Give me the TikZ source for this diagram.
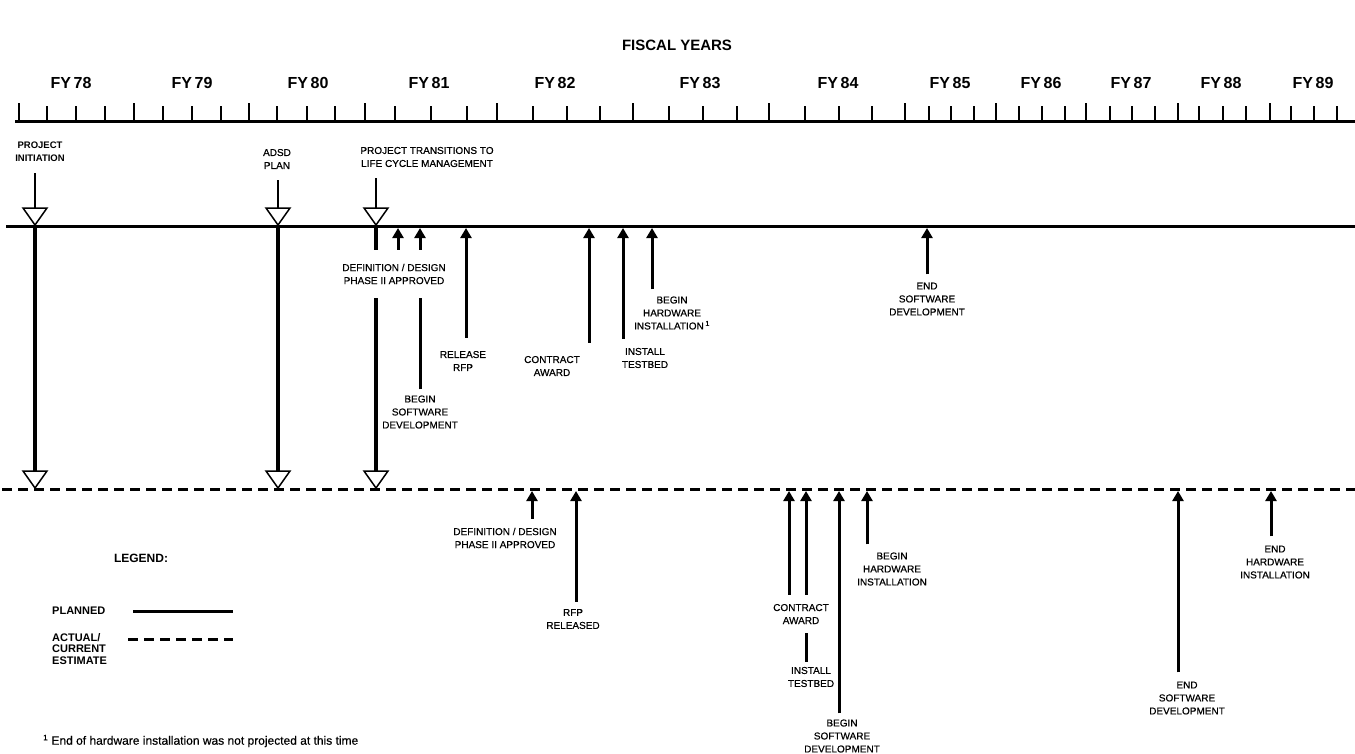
\documentclass[tikz,border=0pt]{standalone}
\usepackage{fontspec}
\setmainfont{Liberation Sans}
\newfontfamily\labfont[FakeBold=0.5]{Liberation Sans}
\newfontfamily\fnfont[FakeBold=0.35]{Liberation Sans}
\usetikzlibrary{arrows.meta,calc}
\newcommand\downtri[1]{\draw[tri] ($(#1)+(-12,-17)$) -- (#1) -- ($(#1)+(12,-17)$) -- cycle;}
\begin{document}
\begin{tikzpicture}[x=1pt,y=-1pt,
  lab/.style={font=\labfont\fontsize{10}{13}\selectfont, align=center, inner sep=1pt},
  labw/.style={lab, fill=white},
  fy/.style={font=\bfseries\fontsize{16}{18}\selectfont},
  arr/.style={line width=3pt, -{Triangle[length=10pt,width=11pt]}},
  vline/.style={line width=3.2pt},
  thinl/.style={line width=1.5pt},
  planned/.style={line width=3pt},
  actual/.style={line width=3pt, dash pattern=on 10pt off 6pt},
  tri/.style={line width=1.5pt, fill=white, line join=miter},
  mintick/.style={line width=1.4pt},
  majtick/.style={line width=2.4pt}]

\useasboundingbox (0,0) rectangle (1355,753);
\fill[white] (0,0) rectangle (1355,753);

% title and fiscal years
\node[font=\bfseries\fontsize{15}{17}\selectfont] (title) at (677,45) {FISCAL YEARS};
\foreach \x/\t [count=\i] in {71/78,192/79,308/80,429/81,555/82,700/83,838/84,950/85,1041/86,1131/87,1221/88,1313/89}
  \node[fy] (fy\i) at (\x,83) {FY\,\t};

% axis
\coordinate (ax0) at (15,121);
\coordinate (ax1) at (1355,121);
\draw[line width=3pt] (ax0) -- (ax1);
\foreach \x in {19,134,249,365,497,633,769,905,996,1086,1178,1270}
  \draw[majtick] (\x,121) -- (\x,103);
\foreach \x in {47,76,105,163,192,221,277,307,335,395,431,467,533,567,600,669,703,737,805,839,872,929,951,974,1019,1042,1065,1110,1132,1155,1199,1223,1246,1291,1314,1337}
  \draw[mintick] (\x,121) -- (\x,106);

% baselines
\coordinate (pl0) at (6,226);
\coordinate (pl1) at (1355,226);
\coordinate (ac0) at (2,489);
\coordinate (ac1) at (1355,489);
\draw[planned] (pl0) -- (pl1);
\draw[actual] (ac0) -- (ac1);

% milestone points on the planned line
\coordinate (tA) at (35,225);
\coordinate (tB) at (278,225);
\coordinate (tC) at (376,225);
\coordinate (tAt) at (35,208);
\coordinate (tBt) at (278,208);
\coordinate (tCt) at (376,208);
\foreach \n/\x in {u1/398,u2/420,u3/466,u4/589,u5/623,u6/652,u7/927}
  \coordinate (\n) at (\x,228);

% milestone points on the actual line
\coordinate (bA) at (35,488);
\coordinate (bB) at (278,488);
\coordinate (bC) at (376,488);
\coordinate (bAt) at (35,471);
\coordinate (bBt) at (278,471);
\coordinate (bCt) at (376,471);
\foreach \n/\x in {d1/532,d2/576,d3/789,d4/806,d5/839,d6/867,d7/1178,d8/1271}
  \coordinate (\n) at (\x,491);

% top labels
\node[lab, font=\bfseries\fontsize{9.5}{13}\selectfont] (lPI) at (40,152) {PROJECT\\INITIATION};
\node[lab] (lAD) at (277,159) {ADSD\\PLAN};
\node[lab] (lPT) at (427,157) {PROJECT TRANSITIONS TO\\LIFE CYCLE MANAGEMENT};

% planned-row labels
\node[lab] (rel1) at (463,361) {RELEASE\\RFP};
\node[lab] (bsw1) at (420,412) {BEGIN\\SOFTWARE\\DEVELOPMENT};
\node[lab] (ca1) at (552,366) {CONTRACT\\AWARD};
\node[lab] (it1) at (645,358) {INSTALL\\TESTBED};
\node[lab] (bhw1) at (672,313) {BEGIN\\HARDWARE\\INSTALLATION\,\textsuperscript{1}};
\node[lab] (esw1) at (927,299) {END\\SOFTWARE\\DEVELOPMENT};

% actual-row labels
\node[lab] (def2) at (505,538) {DEFINITION / DESIGN\\PHASE II APPROVED};
\node[lab] (rfp2) at (573,619) {RFP\\RELEASED};
\node[lab] (it2) at (811,677) {INSTALL\\TESTBED};
\node[lab] (bsw2) at (842,736) {BEGIN\\SOFTWARE\\DEVELOPMENT};
\node[lab] (bhw2) at (892,569) {BEGIN\\HARDWARE\\INSTALLATION};
\node[lab] (esw2) at (1187,698) {END\\SOFTWARE\\DEVELOPMENT};
\node[lab] (ehw2) at (1275,562) {END\\HARDWARE\\INSTALLATION};

% lines from top labels to markers
\draw[thinl, shorten <=10pt] (lPI.south -| tA) -- (tAt);
\draw[thinl, shorten <=10pt] (lAD.south -| tB) -- (tBt);
\draw[thinl, shorten <=10pt] (lPT.south -| tC) -- (tCt);

% long verticals planned -> actual
\draw[vline] (tA) -- (bAt);
\draw[vline] (tB) -- (bBt);
\draw[vline] (tC) -- (bCt);

% planned-row arrows
\draw[arr, shorten <=5pt] (bsw1.north -| u2) -- (u2);
\draw[arr, shorten <=12pt] (rel1.north -| u3) -- (u3);
\draw[arr, shorten <=12pt] (ca1.north -| u4) -- (u4);
\draw[arr, shorten <=8pt] (it1.north -| u5) -- (u5);
\draw[arr, shorten <=6pt] (bhw1.north -| u6) -- (u6);
\draw[arr, shorten <=7pt] (esw1.north -| u7) -- (u7);

% actual-row arrows
\draw[arr, shorten <=8pt] (def2.north -| d1) -- (d1);
\draw[arr, shorten <=6pt] (rfp2.north -| d2) -- (d2);
\draw[arr, shorten <=4pt] (it2.north -| d4) -- (d4);
\draw[arr, shorten <=5pt] (bsw2.north -| d5) -- (d5);
\draw[arr, shorten <=7pt] (bhw2.north -| d6) -- (d6);
\draw[arr, shorten <=8pt] (esw2.north -| d7) -- (d7);
\draw[arr, shorten <=8pt] (ehw2.north -| d8) -- (d8);

% labels that interrupt lines
\node[labw, minimum height=48pt] (def1) at (394,274) {DEFINITION / DESIGN\\PHASE II APPROVED};
\node[labw, minimum height=38pt] (ca2) at (801,614) {CONTRACT\\AWARD};
\draw[arr] (def1.north -| u1) -- (u1);
\draw[arr] (ca2.north -| d3) -- (d3);

% markers
\downtri{tA}
\downtri{tB}
\downtri{tC}
\downtri{bA}
\downtri{bB}
\downtri{bC}

% legend
\node[font=\bfseries\fontsize{12}{14}\selectfont] (leg) at (141,558) {LEGEND:};
\node[font=\bfseries\fontsize{11}{13}\selectfont, anchor=west, inner sep=0pt] (legP) at (52,611) {PLANNED};
\node[font=\bfseries\fontsize{11}{11.5}\selectfont, anchor=north west, align=left, inner sep=0pt] (legA) at (52,633) {ACTUAL/\\CURRENT\\ESTIMATE};
\coordinate (lp0) at (133,611);
\coordinate (lp1) at (233,611);
\coordinate (la0) at (128,639);
\coordinate (la1) at (233,639);
\draw[planned] (lp0) -- (lp1);
\draw[actual] (la0) -- (la1);

% footnote
\node[font=\fnfont\fontsize{12}{14}\selectfont, anchor=west, inner sep=0pt] (fn) at (43,741) {\textsuperscript{1} End of hardware installation was not projected at this time};
\end{tikzpicture}
\end{document}
